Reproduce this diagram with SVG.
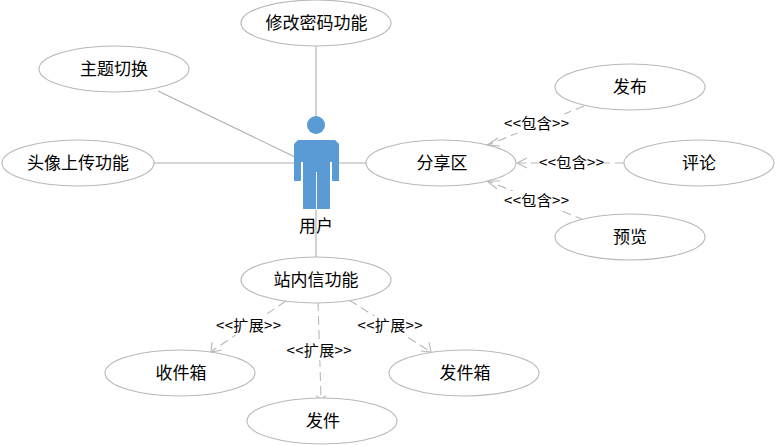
<svg xmlns="http://www.w3.org/2000/svg" width="776" height="445" viewBox="0 0 776 445">
<style>
.bg{fill:#fff}
ellipse{fill:#fff;stroke:#b8b8b8;stroke-width:1.1}
.solid{stroke:#adadad;stroke-width:1.1;fill:none}
.dash{stroke:#b8b8b8;stroke-width:1.1;fill:none;stroke-dasharray:9 5}
.head{stroke:#b8b8b8;stroke-width:1.1;fill:none}
text{font-family:"Noto Sans CJK SC","Liberation Sans",sans-serif;font-size:17px;fill:#000;text-anchor:middle}
.lab{font-size:15px}
.lab-bg{fill:#fff}
.actor{fill:#5b9bd5}
</style>
<rect class="bg" width="776" height="445"/>
<g id="connectors">
<path class="solid" d="M316 45V117M158 91L295 157M154 163H295M338 163H366M316 210V258"/>
<path class="dash" d="M584 106L488 145"/><path class="head" d="M498 138L487 145L500 146"/>
<path class="dash" d="M624 163H517"/><path class="head" d="M527 158L517 163L527 168"/>
<path class="dash" d="M584 220L488 181"/><path class="head" d="M500 181L487 181L497 189"/>
<path class="dash" d="M286 301L212 351"/><path class="head" d="M212 342L211 352L222 350"/>
<path class="dash" d="M318 302L321 398"/><path class="head" d="M316 396L321 399L326 396"/>
<path class="dash" d="M349 300L431 352"/><path class="head" d="M429 342L431 352L421 351"/>
</g>
<g id="label-include-1"><rect class="lab-bg" x="504" y="114" width="65" height="19"/><text class="lab" x="536.5" y="129" textLength="65" lengthAdjust="spacing">&lt;&lt;包含&gt;&gt;</text></g>
<g id="label-include-2"><rect class="lab-bg" x="539" y="153" width="65" height="19"/><text class="lab" x="571.5" y="168" textLength="65" lengthAdjust="spacing">&lt;&lt;包含&gt;&gt;</text></g>
<g id="label-include-3"><rect class="lab-bg" x="504" y="191" width="65" height="19"/><text class="lab" x="536.5" y="206" textLength="65" lengthAdjust="spacing">&lt;&lt;包含&gt;&gt;</text></g>
<g id="label-extend-1"><rect class="lab-bg" x="216" y="316" width="65" height="19"/><text class="lab" x="248.5" y="331" textLength="65" lengthAdjust="spacing">&lt;&lt;扩展&gt;&gt;</text></g>
<g id="label-extend-2"><rect class="lab-bg" x="286" y="341" width="65" height="19"/><text class="lab" x="319" y="356" textLength="65" lengthAdjust="spacing">&lt;&lt;扩展&gt;&gt;</text></g>
<g id="label-extend-3"><rect class="lab-bg" x="357" y="316" width="65" height="19"/><text class="lab" x="390" y="331" textLength="65" lengthAdjust="spacing">&lt;&lt;扩展&gt;&gt;</text></g>
<g id="actor">
<circle class="actor" cx="316" cy="125" r="9"/>
<path class="actor" d="M298 140H335L339 144V181H332V162H330V209H317V172H316V209H303V162H301V181H294V144Z"/>
<text x="316" y="232">用户</text>
</g>
<g id="node-password"><ellipse cx="316" cy="23" rx="75" ry="23"/><text x="316.500" y="29">修改密码功能</text></g>
<g id="node-theme"><ellipse cx="114" cy="69" rx="75" ry="23"/><text x="114" y="75">主题切换</text></g>
<g id="node-avatar"><ellipse cx="78" cy="163" rx="76" ry="23"/><text x="78" y="169">头像上传功能</text></g>
<g id="node-share"><ellipse cx="441" cy="163" rx="75" ry="23"/><text x="442" y="169">分享区</text></g>
<g id="node-publish"><ellipse cx="630" cy="87" rx="75" ry="23"/><text x="630" y="93">发布</text></g>
<g id="node-comment"><ellipse cx="699" cy="163" rx="75" ry="23"/><text x="699" y="169">评论</text></g>
<g id="node-preview"><ellipse cx="630" cy="237" rx="75" ry="23"/><text x="630" y="243">预览</text></g>
<g id="node-message"><ellipse cx="316" cy="280" rx="75" ry="23"/><text x="316" y="286">站内信功能</text></g>
<g id="node-inbox"><ellipse cx="180" cy="373" rx="75" ry="23"/><text x="181" y="379">收件箱</text></g>
<g id="node-sent"><ellipse cx="464" cy="373" rx="75" ry="23"/><text x="465" y="379">发件箱</text></g>
<g id="node-send"><ellipse cx="322" cy="421" rx="75" ry="23"/><text x="323" y="427">发件</text></g>
</svg>
